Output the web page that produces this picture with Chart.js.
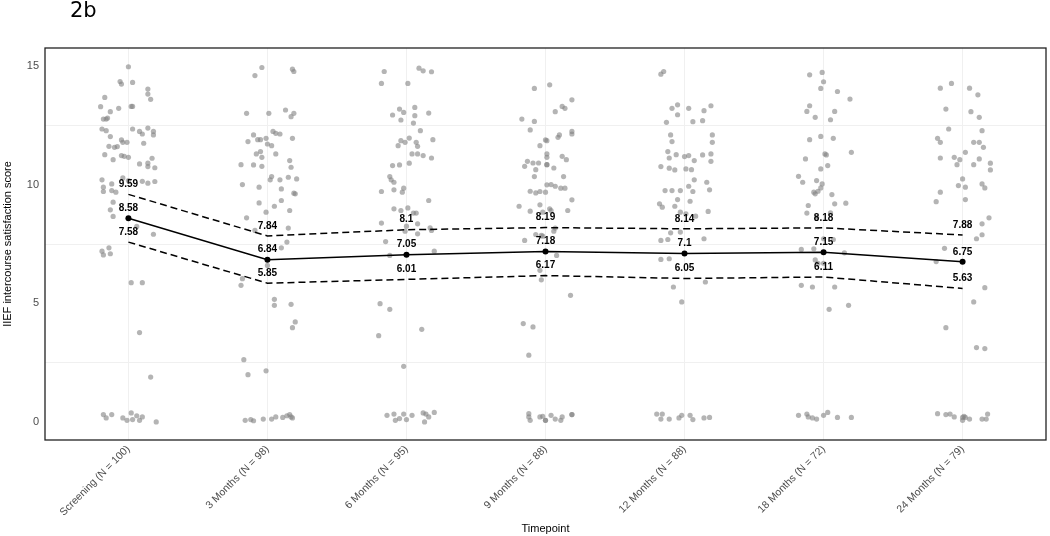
<!DOCTYPE html>
<html>
<head>
<meta charset="utf-8">
<title>2b</title>
<script src="https://cdn.jsdelivr.net/npm/chart.js@4/dist/chart.umd.min.js"></script>
<style>
  body { margin: 0; background: #fff; }
  #wrap { position: relative; width: 1050px; height: 536px; }
  #fig { position: absolute; left: 70px; top: -2px; font: 21px "DejaVu Sans", sans-serif; color: #000; }
</style>
</head>
<body>
<div id="wrap">
  <div id="fig">2b</div>
  <canvas id="chart" width="1050" height="536"></canvas>
</div>
<script>
const categories = ['Screening (N = 100)', '3 Months (N = 98)', '6 Months (N = 95)', '9 Months (N = 88)',
    '12 Months (N = 88)', '18 Months (N = 72)', '24 Months (N = 79)'];
const meanScores = [8.58, 6.84, 7.05, 7.18, 7.1, 7.15, 6.75];
const upperCI = [9.59, 7.84, 8.1, 8.19, 8.14, 8.18, 7.88];
const lowerCI = [7.58, 5.85, 6.01, 6.17, 6.05, 6.11, 5.63];
const yTicks = [0, 5, 10, 15];
const minorGrid = [2.5, 7.5, 12.5];

// individual scores: [horizontal jitter, score]
const screeningPoints = [[0,14.96],[-0.06,14.34],[-0.05,14.23],[0.03,14.3],[0.14,14.02],[0.14,13.81],[0.16,13.59],[-0.17,13.67],
    [-0.2,13.28],[-0.13,13.07],[-0.07,13.21],[0.02,13.29],[0.03,13.29],[-0.18,12.76],[-0.16,12.76],[-0.15,12.8],[-0.19,12.34],
    [-0.16,12.27],[-0.13,12.02],[0.03,12.34],[0.08,12.24],[0.1,12.13],[0.14,12.38],[0.18,12.24],[0.18,12.09],[-0.14,11.61],
    [-0.1,11.57],[-0.08,11.6],[-0.05,11.88],[-0.04,11.78],[-0.01,11.78],[0.11,11.74],[-0.17,11.26],[-0.11,11.05],[-0.05,11.22],
    [-0.03,11.19],[0,11.15],[0.08,10.87],[0.14,10.9],[0.17,11.11],[0.14,10.76],[0.19,10.71],[-0.19,10.2],[-0.12,10.03],
    [-0.04,10.28],[0,10.17],[0.1,10.14],[0.14,10.06],[0.19,10.13],[-0.18,9.89],[-0.18,9.71],[-0.12,9.75],[-0.09,9.68],
    [-0.11,9.26],[-0.13,8.94],[-0.11,8.66],[0.06,8.24],[0.18,7.91],[-0.19,7.2],[-0.18,7.04],[-0.14,7.34],[-0.13,7.09],
    [0.02,5.87],[0.1,5.87],[0.08,3.77],[0.16,1.9],[-0.18,0.32],[-0.16,0.18],[-0.12,0.32],[-0.04,0.18],[-0.01,0.08],
    [0.02,0.39],[0.03,0.11],[0.06,0.27],[0.08,0.08],[0.1,0.22],[0.2,0.01]];
const month3Points = [[-0.04,14.93],[-0.09,14.59],[0.18,14.86],[0.19,14.76],[-0.15,13],[0.01,13],[0.13,13.14],[0.17,12.86],
    [0.19,13],[-0.1,12.09],[-0.07,11.89],[-0.05,11.89],[-0.01,11.95],[0.04,12.24],[0.06,12.16],[0.09,12.13],[0.18,11.95],
    [-0.14,11.81],[0,11.71],[0.03,11.64],[-0.05,11.39],[-0.08,11.29],[-0.04,11.15],[0.06,11.29],[0.16,11.01],[-0.19,10.84],
    [-0.1,10.83],[-0.04,10.77],[0.17,10.73],[0.03,10.34],[0.02,10.2],[0.09,10.2],[0.15,10.31],[0.21,10.24],[-0.18,10],
    [-0.06,9.89],[0.1,9.82],[0.19,9.64],[0.2,9.61],[0.1,9.33],[-0.06,9.23],[0.05,9.09],[0.16,8.91],[-0.01,8.84],[-0.15,8.6],
    [-0.09,8.07],[0.15,8.17],[0.14,7.58],[0.1,7.34],[-0.18,6.04],[-0.19,5.76],[0,6.6],[0.05,5.17],[0.05,4.92],[0.17,4.96],
    [0.2,4.22],[0.18,3.98],[-0.17,2.63],[-0.14,2],[-0.01,2.16],[-0.16,0.08],[-0.12,0.11],[-0.1,0.06],[-0.03,0.13],
    [0.03,0.13],[0.06,0.22],[0.11,0.2],[0.14,0.27],[0.16,0.32],[0.18,0.18],[0.17,0.22]];
const month6Points = [[-0.16,14.76],[0.09,14.9],[0.12,14.79],[0.18,14.75],[-0.18,14.26],[0.01,14.26],[-0.05,13.18],[-0.02,13.04],
    [-0.1,12.93],[-0.04,12.72],[0.06,13.25],[0.06,12.9],[0.05,12.59],[0.16,13.01],[0.1,12.27],[-0.04,11.85],[-0.01,11.78],
    [0.02,11.96],[-0.06,11.64],[0.07,11.78],[0.08,11.61],[0.19,11.89],[0.04,11.29],[0.08,11.29],[0.12,11.22],[0.18,11.12],
    [-0.1,10.8],[-0.05,10.83],[0.02,10.9],[-0.12,10.34],[-0.11,10.2],[-0.09,10.1],[-0.18,9.71],[-0.09,9.78],[-0.02,9.85],
    [-0.03,9.68],[0.16,9.33],[-0.09,8.98],[-0.04,8.91],[0.01,9.02],[0.05,8.8],[0.07,8.8],[-0.18,8.38],[0.08,8.35],[0,8.25],
    [0.17,8.18],[0.18,8.07],[0.08,7.93],[-0.01,8.04],[-0.15,7.6],[-0.12,7.02],[0.2,7.2],[-0.19,4.99],[-0.12,4.75],[0.11,3.91],
    [-0.2,3.64],[-0.02,2.35],[-0.14,0.29],[-0.09,0.34],[-0.08,0.08],[-0.05,0.15],[-0.02,0.34],[0,0.11],[0.04,0.29],
    [0.12,0.39],[0.14,0.34],[0.16,0.22],[0.13,0.01],[0.2,0.41]];
const month9Points = [[-0.08,14.05],[-0.17,12.76],[-0.08,12.66],[-0.11,12.3],[-0.04,11.64],[0.01,11.85],[-0.13,10.98],
    [-0.09,10.91],[-0.05,10.91],[-0.15,10.77],[-0.07,10.63],[-0.08,10.34],[0.01,10.84],[-0.11,9.72],[-0.07,9.65],[-0.04,9.71],
    [0.01,9.99],[-0.19,9.09],[-0.11,8.88],[-0.04,9.15],[-0.02,8.84],[-0.07,7.9],[-0.03,7.86],[-0.15,7.65],[-0.04,6.39],
    [-0.16,4.15],[-0.09,4.01],[-0.12,2.82],[-0.12,0.36],[-0.12,0.22],[-0.11,0.08],[-0.04,0.22],[0,0.08],
    [0.03,14.2],[0.19,13.57],[0.07,13.07],[0.12,13.29],[0.14,13.21],[0,11.88],[0.09,11.99],[0.1,12.09],[0.19,12.24],
    [0.19,12.13],[0.01,11.29],[0.01,11.15],[0.12,11.19],[0.15,11.05],[0.01,10.84],[0.06,10.7],[0.13,10.34],[0.04,10],
    [0.07,9.93],[0.11,9.85],[0.14,9.85],[0,9.68],[0.19,9.36],[0.03,8.98],[0.04,8.91],[0.16,8.91],[0.07,8.17],[0.06,8.04],
    [-0.02,7.83],[0.08,7.02],[-0.03,5.99],[0.18,5.34],[-0.02,0.25],[0.04,0.29],[0.07,0.13],[0.11,0.08],[0.12,0.22],
    [0.19,0.32],[0.19,0.32],[0,0.08]];
const month12Points = [[-0.17,14.65],[-0.15,14.76],[-0.09,13.21],[-0.05,13.36],[-0.05,12.94],[0.03,13.21],[0.14,13.11],
    [0.19,13.32],[-0.13,12.62],[0.06,12.65],[0.13,12.69],[-0.1,12.09],[-0.09,11.81],[0.2,12.09],[0.2,11.78],[-0.12,11.39],
    [-0.11,11.12],[-0.06,11.26],[0,11.18],[0.03,11.22],[0.07,11.01],[0.13,11.25],[0.19,11.29],[0.19,10.98],[-0.17,10.76],
    [-0.11,10.69],[-0.07,10.62],[0.01,10.66],[0.05,10.63],[0.07,10.2],[-0.14,9.75],[-0.09,9.75],[-0.03,9.75],[0.03,9.93],
    [0.06,9.71],[0.16,10.1],[0.18,9.78],[-0.18,9.19],[-0.16,9.05],[-0.07,9.09],[-0.05,9.37],[0.04,9.3],[-0.03,8.84],
    [0.01,8.77],[0.08,8.67],[0.17,8.87],[-0.1,7.97],[-0.03,8],[-0.17,7.65],[-0.12,7.69],[0.14,7.72],[-0.17,6.85],
    [-0.11,6.88],[-0.08,5.69],[-0.02,5.06],[0.15,5.9],[-0.2,0.34],[-0.16,0.34],[-0.17,0.13],[-0.11,0.13],[-0.04,0.18],
    [-0.02,0.29],[0.04,0.29],[0.06,0.11],[0.14,0.18],[0.18,0.2]];
const month18Points = [[-0.1,14.62],[-0.01,14.72],[0,14.33],[-0.02,14.05],[0.1,13.92],[0.19,13.6],[-0.1,13.32],[-0.12,13.08],
    [-0.06,12.83],[0.05,12.73],[0.08,13.08],[-0.1,11.89],[-0.02,12.03],[0.07,11.95],[-0.13,11.08],[0.01,11.29],[0.02,11.25],
    [0.03,10.8],[-0.02,10.66],[0.2,11.36],[-0.18,10.35],[-0.15,10.1],[-0.05,10.17],[-0.01,10.03],[-0.02,9.86],[-0.07,9.68],
    [-0.06,9.61],[-0.04,9.72],[0.06,9.58],[-0.11,9.12],[0.08,9.19],[0.16,9.22],[-0.12,8.8],[-0.05,8.63],[0.05,8.81],
    [0,7.72],[0.07,7.69],[-0.16,7.27],[-0.07,7.3],[0.15,7.13],[-0.06,6.83],[-0.04,6.69],[0,6.69],[-0.16,5.76],[-0.08,5.69],
    [0.08,5.69],[0.04,4.75],[0.18,4.92],[-0.18,0.29],[-0.12,0.34],[-0.11,0.22],[-0.08,0.18],[-0.05,0.13],[0,0.29],
    [0.03,0.41],[0.1,0.2],[0.2,0.2]];
const month24Points = [[-0.16,14.06],[-0.08,14.26],[0.05,14.06],[0.11,13.78],[-0.12,13.18],[0.06,13.07],[0.12,12.83],
    [-0.1,12.34],[0.14,12.27],[-0.18,11.95],[-0.16,11.78],[0.08,11.78],[0.12,11.78],[0.15,11.57],[0.02,11.36],[-0.16,11.12],
    [-0.06,11.15],[-0.02,11.05],[-0.04,10.84],[0.08,10.84],[0.12,11.08],[0.2,10.9],[0.2,10.62],[0,10.24],[-0.03,9.96],
    [0.02,9.89],[0.14,10.03],[0.16,9.86],[-0.16,9.68],[-0.19,9.28],[0.02,9.37],[0.19,8.6],[0.14,8.35],[0.14,7.89],[0.1,7.72],
    [-0.13,7.32],[-0.19,6.76],[0.16,5.66],[0.08,5.06],[-0.12,3.98],[0.1,3.14],[0.16,3.1],[-0.18,0.36],[-0.12,0.32],
    [-0.09,0.34],[-0.06,0.22],[0,0.2],[0.01,0.25],[0.02,0.2],[0.05,0.13],[0,0.08],[0.14,0.13],[0.17,0.13],[0.18,0.34]];

const pointGroups = [screeningPoints, month3Points, month6Points, month9Points, month12Points, month18Points, month24Points];
const FONT = 'Liberation Sans';

const toXY = arr => arr.map((y, i) => ({ x: i, y: y }));

// text above each summary point
const valueLabels = {
    id: 'valueLabels',
    afterDatasetsDraw(chart) {
        const ctx = chart.ctx;
        ctx.save();
        ctx.font = 'bold 10px "' + FONT + '"';
        ctx.fillStyle = '#000';
        ctx.textAlign = 'center';
        ctx.textBaseline = 'middle';
        chart.data.datasets.forEach((ds, i) => {
            if (!ds.showValues) return;
            chart.getDatasetMeta(i).data.forEach((el, j) => {
                ctx.fillText(String(ds.data[j].y), el.x, el.y - 10);
            });
        });
        ctx.restore();
    }
};

// box round the panel
const panelFrame = {
    id: 'panelFrame',
    afterDraw(chart) {
        const a = chart.chartArea;
        const ctx = chart.ctx;
        ctx.save();
        ctx.strokeStyle = '#222';
        ctx.lineWidth = 1.3;
        ctx.strokeRect(a.left, a.top, a.right - a.left, a.bottom - a.top);
        ctx.restore();
    }
};

new Chart(document.getElementById('chart'), {
    type: 'scatter',
    data: {
        datasets: [{
            data: toXY(meanScores),
            showLine: true,
            showValues: true,
            borderColor: '#000',
            borderWidth: 1.5,
            pointRadius: 3,
            pointBackgroundColor: '#000',
            pointBorderWidth: 0,
            order: 1
        }, {
            data: toXY(upperCI),
            showLine: true,
            showValues: true,
            borderColor: '#000',
            borderWidth: 1.5,
            borderDash: [7, 4],
            pointRadius: 0,
            order: 2
        }, {
            data: toXY(lowerCI),
            showLine: true,
            showValues: true,
            borderColor: '#000',
            borderWidth: 1.5,
            borderDash: [7, 4],
            pointRadius: 0,
            order: 2
        }, {
            data: pointGroups.flatMap((g, i) => g.map(p => ({ x: i + p[0], y: p[1] }))),
            backgroundColor: 'rgba(130,130,130,0.6)',
            borderWidth: 0,
            pointRadius: 2.6,
            order: 3
        }]
    },
    options: {
        responsive: false,
        animation: false,
        layout: { padding: { top: 48, right: 3, left: 0, bottom: 0 } },
        plugins: { legend: { display: false }, tooltip: { enabled: false } },
        scales: {
            x: {
                type: 'linear',
                min: -0.6,
                max: 6.6,
                afterBuildTicks: s => { s.ticks = categories.map((c, i) => ({ value: i })); },
                afterFit: s => { s.height = 96; },
                ticks: {
                    callback: v => categories[v],
                    autoSkip: false,
                    minRotation: 45,
                    maxRotation: 45,
                    color: '#4d4d4d',
                    padding: 3,
                    font: { family: FONT, size: 10.5 }
                },
                grid: { color: '#f0f0f0', drawTicks: false },
                border: { display: false },
                title: { display: true, text: 'Timepoint', color: '#000', padding: 0, font: { family: FONT, size: 11 } }
            },
            y: {
                type: 'linear',
                min: -0.75,
                max: 15.75,
                afterBuildTicks: s => { s.ticks = yTicks.map(v => ({ value: v })); },
                afterFit: s => { s.width = 45; },
                ticks: { color: '#4d4d4d', padding: 6, font: { family: FONT, size: 11 } },
                grid: { display: false, drawTicks: false },
                border: { display: false },
                title: {
                    display: true,
                    text: 'IIEF intercourse satisfaction score',
                    color: '#000',
                    padding: { top: 1, bottom: 0 },
                    font: { family: FONT, size: 11 }
                }
            },
            yMinor: {
                type: 'linear',
                position: 'left',
                min: -0.75,
                max: 15.75,
                afterBuildTicks: s => { s.ticks = minorGrid.map(v => ({ value: v })); },
                afterFit: s => { s.width = 0; },
                ticks: { display: false },
                grid: { color: '#f0f0f0', drawTicks: false },
                border: { display: false }
            }
        }
    },
    plugins: [valueLabels, panelFrame]
});
</script>
</body>
</html>
